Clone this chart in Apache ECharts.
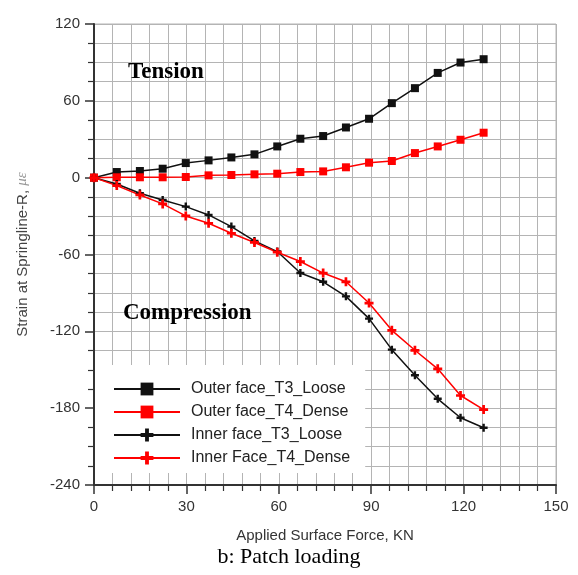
<!DOCTYPE html>
<html>
<head>
<meta charset="utf-8">
<script src="https://cdn.jsdelivr.net/npm/echarts@6/dist/echarts.min.js"></script>
<style>
  html, body { margin: 0; padding: 0; background: #fff; }
  #chart { width: 578px; height: 575px; }
</style>
</head>
<body>
<div id="chart"></div>
<script>
// applied surface force (KN)
var force = [0, 7.4, 14.9, 22.3, 29.8, 37.2, 44.6, 52.1, 59.5, 67.0, 74.4, 81.8, 89.3, 96.7, 104.2, 111.6, 119.0, 126.5];

// strain values
var outerT3Loose = [0, 4.4, 5.2, 7.0, 11.4, 13.5, 15.8, 18.2, 24.4, 30.4, 32.5, 39.2, 46.0, 58.2, 69.9, 81.8, 89.9, 92.5];
var outerT4Dense = [0, 0.3, 0.3, 0.3, 0.5, 1.8, 2.1, 2.6, 3.1, 4.4, 4.9, 8.1, 11.7, 13.0, 19.2, 24.4, 29.6, 35.1];
var innerT3Loose = [0, -4.9, -12.2, -17.4, -22.6, -29.1, -38.2, -49.4, -57.7, -74.5, -81.3, -92.7, -110.1, -134.3, -154.3, -172.7, -187.5, -195.3];
var innerT4Dense = [0, -6.2, -13.5, -20.5, -29.9, -35.6, -43.4, -50.6, -58.2, -65.5, -74.5, -81.3, -97.9, -119.2, -134.8, -149.3, -170.1, -181.1];

var seriesNames = ["Outer face_T3_Loose", "Outer face_T4_Dense", "Inner face_T3_Loose", "Inner Face_T4_Dense"];

var xTicks = { min: 0, max: 150, interval: 30 };
var yTicks = { min: -240, max: 120, interval: 60 };

var plus = "path://M3.5,0h3v3.5h3.5v3h-3.5v3.5h-3v-3.5h-3.5v-3h3.5z";
var sans = "Liberation Sans, Arial, sans-serif";
var serif = "Liberation Serif, Times New Roman, serif";

function pairs(ys) {
  return force.map(function (x, i) { return [x, ys[i]]; });
}

function makeSeries(name, ys, color, symbol, size) {
  return {
    name: name,
    type: "line",
    data: pairs(ys),
    symbol: symbol,
    symbolSize: size,
    lineStyle: { color: color, width: 1.5 },
    itemStyle: { color: color },
    animation: false
  };
}

var myChart = echarts.init(document.getElementById("chart"));

var gridColor = "#b4b4b4";
var axisColor = "#333";

var option = {
  backgroundColor: "#fff",
  grid: {
    left: 94, right: 22, top: 24, bottom: 90,
    show: true, borderColor: gridColor, borderWidth: 1
  },
  legend: {
    orient: "vertical",
    left: 95, top: 365,
    padding: [16, 15, 7, 18],
    backgroundColor: "#fff",
    itemWidth: 66,
    itemHeight: 16,
    itemGap: 7,
    data: seriesNames,
    textStyle: { fontFamily: sans, fontSize: 16, color: "#222", padding: [0, 0, 0, 6] }
  },
  xAxis: {
    type: "value",
    min: xTicks.min, max: xTicks.max, interval: xTicks.interval,
    name: "Applied Surface Force, KN",
    nameLocation: "middle",
    nameGap: 43,
    nameTextStyle: { fontFamily: sans, fontSize: 15, color: "#333" },
    axisLine: { onZero: false, lineStyle: { color: axisColor, width: 2 } },
    axisTick: { inside: false, length: 9, lineStyle: { color: axisColor, width: 1.5 } },
    minorTick: { show: true, splitNumber: 5, length: 6, lineStyle: { color: axisColor, width: 1.2 } },
    splitLine: { show: true, lineStyle: { color: gridColor, width: 1 } },
    minorSplitLine: { show: true, lineStyle: { color: gridColor, width: 1 } },
    axisLabel: { fontFamily: sans, fontSize: 15, color: "#333", margin: 14 }
  },
  yAxis: {
    type: "value",
    min: yTicks.min, max: yTicks.max, interval: yTicks.interval,
    name: "Strain at Springline-R, {g|με}",
    nameLocation: "middle",
    nameGap: 64,
    nameRotate: 90,
    nameTextStyle: {
      fontFamily: sans, fontSize: 15, color: "#444",
      rich: { g: { fontFamily: serif, fontStyle: "italic", fontSize: 15, color: "#999" } }
    },
    axisLine: { onZero: false, lineStyle: { color: axisColor, width: 2 } },
    axisTick: { inside: false, length: 9, lineStyle: { color: axisColor, width: 1.5 } },
    minorTick: { show: true, splitNumber: 4, length: 6, lineStyle: { color: axisColor, width: 1.2 } },
    splitLine: { show: true, lineStyle: { color: gridColor, width: 1 } },
    minorSplitLine: { show: true, lineStyle: { color: gridColor, width: 1 } },
    axisLabel: { fontFamily: sans, fontSize: 15, color: "#333", margin: 14 }
  },
  graphic: [
    {
      type: "text", left: 128, top: 61, z: 10,
      style: { text: "Tension", font: "bold 23px " + serif, fill: "#000" }
    },
    {
      type: "text", left: 123, top: 302, z: 10,
      style: { text: "Compression", font: "bold 23px " + serif, fill: "#000" }
    },
    {
      type: "text", left: "center", top: 546, z: 10,
      style: { text: "b: Patch loading", font: "22px " + serif, fill: "#000" }
    }
  ],
  series: [
    makeSeries(seriesNames[0], outerT3Loose, "#111", "rect", 8),
    makeSeries(seriesNames[1], outerT4Dense, "#f00", "rect", 8),
    makeSeries(seriesNames[2], innerT3Loose, "#111", plus, 8),
    makeSeries(seriesNames[3], innerT4Dense, "#f00", plus, 9)
  ]
};

myChart.setOption(option);
</script>
</body>
</html>
